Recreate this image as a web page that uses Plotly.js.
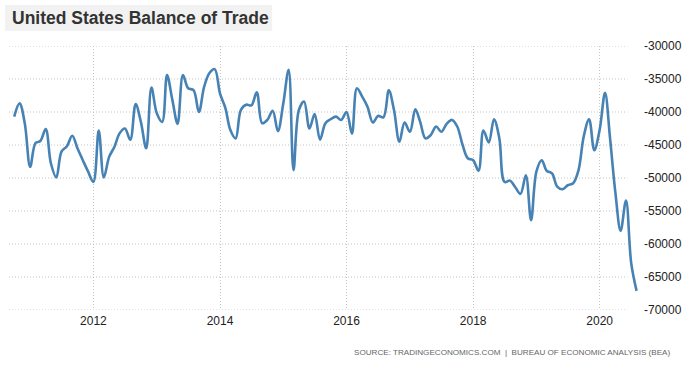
<!DOCTYPE html>
<html>
<head>
<meta charset="utf-8">
<script src="https://cdn.plot.ly/plotly-3.0.1.min.js"></script>
<style>
  html, body { margin: 0; padding: 0; background: #ffffff; }
  #chart { width: 691px; height: 367px; }
</style>
</head>
<body>
<div id="chart"></div>
<script>
// Monthly US balance of trade (USD million), Oct 2010 .. Aug 2020
const startYear = 2010;
const startMonth = 10;
const balance = [
  -40700, -38700, -41700, -48300, -44700, -44400, -42600, -47800, -49900, -46000,
  -45200, -43600, -45500, -47300, -49000, -50600, -42800, -49900, -46800, -45300,
  -43200, -42500, -44200, -38800, -41500, -45500, -36300, -40200, -41500, -34400,
  -38200, -41800, -34400, -36400, -36700, -40000, -36200, -34100, -33500, -37200,
  -39400, -42700, -44000, -39700, -38900, -39000, -37000, -41700, -41200, -39800,
  -42900, -38700, -33600, -48800, -39700, -38400, -42500, -40300, -44200, -41700,
  -41100, -40700, -41200, -40000, -43300, -36400, -37700, -39200, -41600, -40600,
  -40800, -36700, -39700, -44500, -41600, -43000, -39600, -41500, -44000, -43500,
  -42200, -43000, -41800, -41200, -42200, -45000, -47000, -47300, -48900, -42800,
  -44600, -41100, -44000, -50600, -50400, -51400, -52400, -49600, -56400, -49000,
  -47300, -48900, -49300, -51300, -51700, -51100, -50800, -48800, -43700, -41100,
  -45800, -42700, -37100, -44000, -52300, -58000, -53400, -62900, -67100
];
const xTicks = ['2012-01-01', '2014-01-01', '2016-01-01', '2018-01-01', '2020-01-01'];
const xTickLabels = ['2012', '2014', '2016', '2018', '2020'];
const yTicks = [-30000, -35000, -40000, -45000, -50000, -55000, -60000, -65000, -70000];

function monthDate(i) {
  const total = (startMonth - 1) + i;
  const y = startYear + Math.floor(total / 12);
  const m = (total % 12) + 1;
  return y + '-' + String(m).padStart(2, '0') + '-01';
}
const dates = balance.map((_, i) => monthDate(i));

// plot-area geometry in pixels
const W = 691, H = 367;
const L = 9, R = 638.6, T = 46, B = 310;
const pw = R - L, ph = B - T;
const px = x => (x - L) / pw;
const py = y => (B - y) / ph;

const gridColor = '#c4c4c4';
const gridDash = '1px,2px';

const trace = {
  x: dates,
  y: balance,
  type: 'scatter',
  mode: 'lines',
  line: { color: '#4682b4', width: 2.6, shape: 'spline', smoothing: 1 },
  hoverinfo: 'x+y'
};

const hGrid = yTicks.map(v => ({
  type: 'line', xref: 'paper', yref: 'y', layer: 'below',
  x0: 0, x1: px(627), y0: v, y1: v,
  line: { color: gridColor, width: 1, dash: gridDash }
}));

const layout = {
  width: W, height: H,
  margin: { l: L, r: W - R, t: T, b: H - B, pad: 0 },
  paper_bgcolor: '#ffffff',
  plot_bgcolor: '#ffffff',
  showlegend: false,
  font: { family: 'Arial, "Liberation Sans", sans-serif', size: 12, color: '#222' },
  xaxis: {
    type: 'date',
    range: ['2010-09-01', '2020-08-15'],
    tickvals: xTicks,
    ticktext: xTickLabels,
    showgrid: true,
    gridcolor: gridColor,
    griddash: gridDash,
    gridwidth: 1,
    zeroline: false,
    showline: false,
    ticks: '',
    ticklabelstandoff: 2,
    tickfont: { size: 12, color: '#222' }
  },
  yaxis: {
    range: [-70000, -30000],
    side: 'right',
    tickvals: yTicks,
    ticktext: yTicks.map(v => String(v)),
    showgrid: false,
    zeroline: false,
    showline: false,
    ticks: '',
    ticklabelstandoff: 4,
    tickfont: { size: 12, color: '#222' }
  },
  shapes: [
    {
      type: 'rect', xref: 'paper', yref: 'paper', layer: 'below',
      x0: px(5), x1: px(272), y0: py(31), y1: py(5),
      fillcolor: '#f2f2f2', line: { width: 0 }
    }
  ].concat(hGrid),
  annotations: [
    {
      text: '<b>United States Balance of Trade</b>',
      xref: 'paper', yref: 'paper',
      x: px(10), y: py(18), xanchor: 'left', yanchor: 'middle',
      showarrow: false,
      font: { family: 'Arial, "Liberation Sans", sans-serif', size: 17.5, color: '#333' }
    },
    {
      text: 'SOURCE: TRADINGECONOMICS.COM  |  BUREAU OF ECONOMIC ANALYSIS (BEA)',
      xref: 'paper', yref: 'paper',
      x: px(672), y: py(352), xanchor: 'right', yanchor: 'middle',
      showarrow: false,
      font: { family: 'Arial, "Liberation Sans", sans-serif', size: 8.1, color: '#666' }
    }
  ]
};

Plotly.newPlot('chart', [trace], layout, { displayModeBar: false, staticPlot: true });
</script>
</body>
</html>
